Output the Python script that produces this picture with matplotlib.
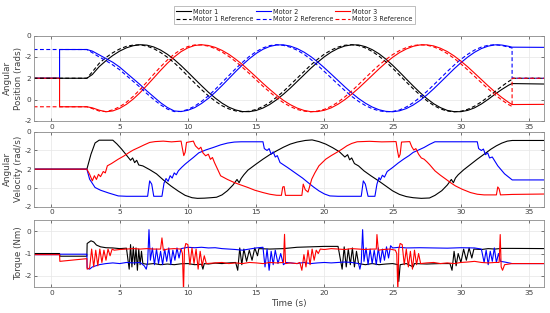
import numpy as np
import matplotlib.pyplot as plt

# ---- position data (rad) ----
t_move = np.concatenate([[2.6], np.arange(3.0, 33.51, 0.5), [33.75]])

m1_pos = [0.0, 0.35, 1.09, 1.65, 2.14, 2.55, 2.86, 3.06, 3.15, 3.11, 2.94, 2.65, 2.25, 1.76, 1.19, 0.57,
          -0.07, -0.70, -1.31, -1.86, -2.34, -2.72, -2.98, -3.13, -3.14, -3.03, -2.80, -2.46, -2.02, -1.50,
          -0.93, -0.31, 0.31, 0.93, 1.50, 2.02, 2.46, 2.80, 3.03, 3.14, 3.13, 2.97, 2.69, 2.30, 1.80, 1.22,
          0.59, -0.07, -0.72, -1.34, -1.90, -2.39, -2.76, -3.02, -3.14, -3.14, -3.02, -2.78, -2.42, -1.98,
          -1.50, -1.05, -0.65, -0.50]
m1_ref = [0.0, 0.60, 1.40, 1.95, 2.40, 2.75, 3.00, 3.12, 3.14, 3.02, 2.78, 2.42, 1.97, 1.45, 0.85, 0.20,
          -0.45, -1.07, -1.65, -2.15, -2.58, -2.88, -3.07, -3.15, -3.10, -2.93, -2.65, -2.27, -1.78, -1.24,
          -0.62, 0.0, 0.62, 1.24, 1.78, 2.27, 2.65, 2.93, 3.10, 3.15, 3.07, 2.85, 2.52, 2.08, 1.55, 0.95,
          0.30, -0.35, -0.98, -1.57, -2.10, -2.55, -2.88, -3.08, -3.15, -3.10, -2.92, -2.62, -2.22, -1.75,
          -1.25, -0.75, -0.30, -0.10]
m2_pos = [2.70, 2.55, 2.20, 1.85, 1.50, 1.05, 0.50, -0.05, -0.60, -1.20, -1.75, -2.30, -2.75, -3.07, -3.13,
          -3.01, -2.76, -2.37, -1.89, -1.32, -0.69, -0.03, 0.63, 1.26, 1.83, 2.33, 2.72, 2.99, 3.13, 3.14,
          3.02, 2.79, 2.46, 2.04, 1.54, 0.98, 0.39, -0.21, -0.81, -1.38, -1.90, -2.34, -2.70, -2.96, -3.11,
          -3.15, -3.06, -2.85, -2.52, -2.09, -1.58, -1.00, -0.38, 0.25, 0.88, 1.46, 1.99, 2.44, 2.79, 3.02,
          3.14, 3.12, 3.00, 2.92]
m2_ref = [2.70, 2.40, 2.00, 1.65, 1.25, 0.80, 0.25, -0.30, -0.85, -1.45, -2.00, -2.50, -2.90, -3.13, -3.12,
          -2.93, -2.62, -2.18, -1.65, -1.05, -0.40, 0.25, 0.90, 1.50, 2.05, 2.50, 2.85, 3.07, 3.15, 3.09,
          2.92, 2.64, 2.26, 1.78, 1.22, 0.63, 0.03, -0.57, -1.16, -1.70, -2.17, -2.56, -2.86, -3.06, -3.15,
          -3.12, -2.98, -2.70, -2.30, -1.80, -1.25, -0.63, 0.0, 0.63, 1.23, 1.78, 2.25, 2.65, 2.93, 3.10,
          3.15, 3.08, 2.92, 2.85]
m3_pos = [-2.68, -2.78, -3.00, -3.15, -3.07, -2.83, -2.45, -1.95, -1.35, -0.67, 0.03, 0.74, 1.41, 2.00,
          2.50, 2.86, 3.08, 3.15, 3.08, 2.90, 2.62, 2.25, 1.79, 1.28, 0.71, 0.12, -0.48, -1.05, -1.59, -2.08,
          -2.48, -2.80, -3.02, -3.14, -3.13, -3.01, -2.78, -2.44, -2.01, -1.50, -0.94, -0.34, 0.27, 0.88,
          1.45, 1.97, 2.41, 2.75, 3.00, 3.13, 3.14, 3.04, 2.82, 2.51, 2.10, 1.61, 1.07, 0.48, -0.12, -0.72,
          -1.29, -1.81, -2.27, -2.47]
m3_ref = [-2.68, -2.85, -3.08, -3.13, -2.97, -2.68, -2.25, -1.70, -1.05, -0.35, 0.38, 1.08, 1.72, 2.27,
          2.70, 2.98, 3.13, 3.13, 3.02, 2.79, 2.47, 2.05, 1.57, 1.02, 0.45, -0.15, -0.75, -1.30, -1.84, -2.30,
          -2.66, -2.93, -3.09, -3.15, -3.08, -2.92, -2.63, -2.25, -1.75, -1.20, -0.60, 0.03, 0.65, 1.23,
          1.75, 2.22, 2.60, 2.88, 3.07, 3.15, 3.11, 2.95, 2.68, 2.32, 1.87, 1.35, 0.78, 0.18, -0.42, -1.00,
          -1.55, -2.05, -2.48, -2.65]
hold_start = [0.0, 2.70, -2.68]   # value held before motion
hold_end = [-0.55, 2.90, -2.45]   # value held after motion

# ---- velocity data (rad/s) ----
v1_t = [-1.3, 2.6, 2.9, 3.2, 3.5, 4.5, 4.8, 5.15, 5.5, 5.8, 5.95, 6.1, 6.25, 6.4, 6.7, 7.2, 7.7, 8.2, 8.76,
        9.3, 9.8, 10.3, 10.7, 11.2, 11.7, 12.1, 12.5, 12.9, 13.3, 13.6, 13.75, 13.9, 14.1, 14.4, 15.0, 15.5,
        16.0, 16.5, 17.0, 17.5, 18.0, 18.6, 19.1, 19.6, 20.1, 20.6, 21.1, 21.5, 21.7, 21.85, 22.0, 22.2, 22.5,
        22.9, 23.4, 23.97, 24.5, 25.0, 25.5, 26.0, 26.5, 27.1, 27.7, 28.1, 28.6, 29.0, 29.3, 29.45, 29.6,
        29.8, 30.2, 30.7, 31.2, 31.7, 32.2, 32.6, 33.0, 33.4, 33.76, 36.5]
v1 = [0, 0, 1.6, 2.8, 3.1, 3.1, 2.7, 2.14, 1.5, 0.95, 1.2, 0.7, 0.95, 0.45, 0.35, -0.05, -0.5, -1.15, -1.8,
      -2.35, -2.8, -3.05, -3.12, -3.1, -3.05, -3.0, -2.75, -2.3, -1.7, -1.1, -1.45, -1.0, -0.6, -0.1, 0.55, 1.07,
      1.55, 1.96, 2.35, 2.68, 2.9, 3.07, 3.13, 2.95, 2.68, 2.3, 1.86, 1.3, 1.55, 1.0, 1.2, 0.6, 0.35,
      -0.18, -0.7, -1.25, -1.8, -2.32, -2.7, -2.93, -3.05, -3.12, -3.08, -2.8, -2.3, -1.7, -1.1, -1.45, -0.95,
      -0.6, -0.07, 0.5, 1.07, 1.6, 2.14, 2.5, 2.79, 3.0, 3.07, 3.07]
v2_t = [-1.3, 2.6, 2.8, 3.2, 3.6, 4.2, 4.9, 5.5, 7.05, 7.2, 7.35, 7.5, 8.1, 8.25, 8.4, 8.55, 8.7, 8.85, 9.0,
        9.15, 9.3, 9.55, 9.8, 10.1, 10.4, 10.8, 11.3, 11.86, 12.4, 12.9, 13.4, 13.9, 15.5, 15.6, 15.8, 15.95,
        16.1, 16.25, 16.4, 16.55, 16.75, 17.3, 18.0, 18.4, 18.8, 19.2, 19.6, 20.0, 20.4, 21.0, 22.7, 22.85,
        23.0, 23.2, 23.7, 23.85, 24.0, 24.1, 24.25, 24.4, 24.6, 25.0, 25.4, 25.8, 26.2, 26.5, 26.9, 27.3,
        27.7, 28.1, 31.2, 31.3, 31.5, 31.65, 31.8, 31.96, 32.1, 32.3, 32.7, 33.2, 33.76, 36.5]
v2 = [0, 0, -1.07, -1.96, -2.25, -2.55, -2.86, -2.9, -2.9, -1.25, -1.6, -2.9, -2.9, -1.5, -1.0, -1.3, -0.7,
      -0.95, -0.4, -0.6, -0.18, 0.2, 0.54, 0.9, 1.25, 1.75, 2.05, 2.32, 2.6, 2.79, 2.9, 2.93, 2.93, 2.2, 2.0,
      2.2, 1.6, 1.85, 1.3, 1.45, 0.71, 0.18, -0.54, -0.95, -1.43, -1.9, -2.32, -2.65, -2.86, -2.9, -2.9,
      -1.25, -1.6, -2.9, -2.9, -1.6, -0.9, -1.15, -0.65, -0.85, -0.25, 0.18, 0.65, 1.07, 1.45, 1.79, 2.05,
      2.32, 2.65, 2.93, 2.93, 2.2, 2.0, 2.15, 1.55, 1.75, 1.2, 1.3, 0.36, -0.5, -1.15, -1.15]
v3_t = [-1.3, 2.6, 2.8, 3.0, 3.15, 3.3, 3.45, 3.6, 3.8, 3.95, 4.1, 4.4, 4.9, 5.3, 5.7, 6.0, 6.4, 6.8, 7.2,
        7.6, 8.2, 8.8, 9.5, 9.6, 9.7, 9.8, 9.9, 10.4, 10.55, 10.8, 10.95, 11.1, 11.3, 11.5, 11.65, 11.8,
        11.95, 12.4, 12.9, 13.4, 13.9, 14.4, 14.9, 15.5, 16.0, 16.5, 16.85, 16.95, 17.05, 17.15, 18.35,
        18.45, 18.6, 18.8, 18.95, 19.07, 19.3, 19.6, 20.1, 20.5, 20.9, 21.3, 21.65, 22.0, 22.4, 23.3, 24.2,
        25.25, 25.35, 25.45, 25.55, 25.65, 26.25, 26.4, 26.55, 26.7, 26.9, 27.1, 27.3, 27.5, 27.7, 28.1,
        28.5, 28.9, 29.25, 29.6, 30.1, 30.7, 31.2, 31.7, 32.6, 32.7, 32.8, 32.9, 33.76, 36.5]
v3 = [0, 0, -0.54, -1.25, -0.7, -1.1, -0.55, -0.8, -0.25, -0.4, 0.36, 0.6, 1.07, 1.4, 1.79, 2.05, 2.32,
      2.6, 2.86, 2.95, 3.0, 2.92, 3.0, 2.2, 1.45, 1.8, 2.86, 3.0, 2.5, 2.14, 2.35, 1.75, 1.43, 1.6, 1.05,
      1.25, 0.7, -0.71, -1.1, -1.43, -1.7, -1.96, -2.25, -2.5, -2.68, -2.79, -2.8, -1.9, -1.86, -2.8, -2.8,
      -1.6, -2.2, -2.45, -1.7, -1.07, -0.4, 0.36, 1.07, 1.45, 1.79, 2.15, 2.5, 2.75, 2.93, 2.98, 2.92,
      2.95, 2.0, 1.25, 1.6, 2.9, 2.95, 2.4, 2.05, 2.2, 1.6, 1.2, 1.07, 0.8, 0.5, -0.18,
      -0.65, -1.07, -1.45, -1.79, -2.15, -2.5, -2.68, -2.75, -2.75, -1.9, -2.1, -2.75, -2.7, -2.65]

# ---- torque data (Nm) ----
q1_t = [-1.3, 0.6, 0.62, 2.6, 2.62, 2.9, 3.1, 3.3, 3.6, 4.0, 4.5, 5.0, 5.5,
        5.7, 5.8, 5.9, 6.0, 6.1, 6.2, 6.3, 6.4, 6.5, 6.6, 6.7,
        7.0, 7.5, 8.0, 8.5, 9.0, 9.5, 10.0, 10.5, 11.0, 11.1, 11.2, 11.5, 12.0, 12.5, 13.0, 13.5,
        13.65, 13.8, 13.95, 14.1, 14.3, 14.5, 14.7, 14.9, 15.1, 15.2,
        16.0, 17.0, 18.0, 19.0, 20.0, 21.0,
        21.3, 21.45, 21.6, 21.75, 21.9, 22.05, 22.2, 22.35, 22.5,
        23.0, 23.5, 24.0, 24.5, 25.0, 25.4, 25.45, 25.55, 26.0, 26.5, 26.6, 27.5, 28.5, 29.2,
        29.35, 29.5, 29.65, 29.8, 30.0, 30.2, 30.4, 30.6, 30.8, 30.95,
        31.5, 32.0, 32.5, 33.0, 33.75, 36.5]
q1 = [-1.0, -1.0, -1.12, -1.12, -0.55, -0.43, -0.48, -0.62, -0.7, -0.74, -0.75, -0.78, -0.76,
      -1.7, -0.6, -1.6, -0.7, -1.5, -0.75, -1.75, -0.8, -1.5, -0.9, -1.45,
      -1.48, -1.45, -1.5, -1.47, -1.5, -1.46, -1.45, -1.5, -1.48, -1.7, -1.45, -1.47, -1.43, -1.45, -1.42, -1.4,
      -1.75, -0.75, -1.5, -0.8, -1.35, -0.85, -1.3, -0.75, -1.1, -0.78,
      -0.8, -0.78, -0.72, -0.7, -0.68, -0.68,
      -1.7, -0.7, -1.6, -0.8, -1.5, -0.75, -1.6, -0.9, -1.45,
      -1.5, -1.45, -1.5, -1.47, -1.45, -1.5, -2.25, -1.5, -1.45, -1.6, -1.45, -1.47, -1.45, -1.45,
      -1.75, -0.9, -1.55, -1.0, -1.4, -0.8, -1.3, -0.75, -1.2, -0.8,
      -0.82, -0.78, -0.8, -0.77, -0.77, -0.78]
q2_t = [-1.3, 0.6, 0.62, 2.6, 2.62, 2.8, 3.0, 3.5, 4.0, 4.5, 5.0, 5.5, 6.0, 6.5, 6.8, 6.95, 7.05, 7.15, 7.25,
        7.4, 7.55, 7.7, 7.85, 8.0, 8.15, 8.3, 8.45, 8.6, 8.75, 8.9, 9.05, 9.2, 9.35, 9.5,
        10.0, 10.5, 11.0, 11.5, 12.0, 12.5, 13.0, 13.5, 14.0, 14.5, 15.0, 15.5,
        15.65, 15.8, 15.95, 16.1, 16.25, 16.4, 16.6, 16.8, 17.0, 17.2,
        18.0, 18.5, 19.0, 19.5, 20.0, 20.5, 21.0, 21.5, 22.0, 22.5, 22.6, 22.7, 22.8, 22.9,
        23.05, 23.2, 23.35, 23.5, 23.65, 23.8, 23.95, 24.1, 24.25, 24.4, 24.55, 24.7, 24.85, 25.0,
        25.5, 26.0, 27.0, 28.0, 29.0, 30.0, 31.0, 31.5,
        31.7, 31.85, 32.0, 32.15, 32.3, 32.45, 32.6, 32.75, 32.9, 33.2, 33.75, 36.5]
q2 = [-1.05, -1.05, -1.03, -1.03, -1.65, -1.7, -1.6, -1.5, -1.45, -1.42, -1.45, -1.4, -1.42, -1.4, -1.55,
      -1.7, -1.4, 0.07, -1.3,
      -0.75, -1.5, -0.8, -1.45, -0.9, -1.5, -0.8, -1.35, -0.75, -1.5, -0.85, -1.3, -0.75, -1.2, -0.78,
      -0.72, -0.74, -0.72, -0.75, -0.74, -0.78, -0.8, -0.82, -0.85, -0.8, -0.75, -0.72,
      -1.6, -0.8, -1.75, -0.9, -1.5, -0.85, -1.45, -1.0, -1.5, -1.4,
      -1.45, -1.4, -1.45, -1.42, -1.4, -1.42, -1.4, -1.38, -1.4, -1.45, -1.7, -1.4, 0.07, -1.35,
      -0.75, -1.5, -0.8, -1.45, -0.85, -1.5, -0.75, -1.4, -0.8, -1.3, -0.7, -1.2, -0.65, -0.75,
      -0.72, -0.75, -0.74, -0.75, -0.76, -0.74, -0.75, -0.8,
      -1.4, -0.85, -1.5, -0.9, -1.35, -0.75, -1.4, -1.0, -1.35, -1.38, -1.45, -1.45]
q3_t = [-1.3, 0.6, 0.62, 2.6, 2.62, 2.8,
        2.95, 3.1, 3.25, 3.4, 3.55, 3.7, 3.85, 4.0, 4.15, 4.3, 4.45, 4.6,
        5.0, 5.5, 6.0, 6.5, 7.0, 7.5, 8.0, 8.1, 8.2, 8.5, 9.0, 9.5, 9.6, 9.68, 9.75,
        9.85, 10.0, 10.15, 10.3, 10.45, 10.6, 10.75, 10.9, 11.05, 11.2, 11.35,
        12.0, 12.5, 13.0, 13.5, 14.0, 14.5, 15.0, 15.5, 16.0, 16.5, 17.0, 17.08, 17.15, 17.5, 18.0, 18.2,
        18.35, 18.5, 18.65, 18.8, 18.95, 19.1, 19.25, 19.4, 19.55, 19.7,
        20.0, 20.5, 21.0, 21.5, 22.0, 22.5, 23.0, 23.5, 23.8, 23.85, 23.95, 24.3, 24.8, 25.2, 25.3,
        25.38, 25.45,
        25.55, 25.7, 25.85, 26.0, 26.15, 26.3, 26.45, 26.6, 26.75, 26.9, 27.05,
        27.5, 28.0, 28.5, 29.0, 29.5, 30.0, 30.5, 31.0, 31.5, 32.0, 32.5, 32.8, 32.88, 32.95, 33.05,
        33.2, 33.75, 36.5]
q3 = [-1.05, -1.05, -1.35, -1.23, -1.7, -1.65,
      -0.8, -1.6, -0.85, -1.55, -0.8, -1.4, -0.85, -1.3, -0.8, -1.1, -0.8, -0.85,
      -0.82, -0.8, -0.78, -0.8, -0.78, -0.8, -0.8, -0.3, -0.85, -0.8, -0.78, -0.8, -1.0, -2.7, -0.8,
      -0.55, -0.6, -1.5, -0.75, -1.45, -0.8, -1.7, -0.9, -1.55, -1.1, -1.45,
      -1.42, -1.4, -1.45, -1.42, -1.45, -1.4, -1.42, -1.45, -1.4, -1.42, -1.4, -0.14, -1.45, -1.42, -1.45, -1.4,
      -1.75, -1.05, -1.6, -0.85, -1.5, -0.8, -1.3, -0.85, -1.0, -0.8,
      -0.82, -0.78, -0.8, -0.82, -0.78, -0.8, -0.82, -0.8, -0.8, -0.15, -0.85, -0.82, -0.8, -0.85, -1.0,
      -2.7, -0.8,
      -0.55, -0.6, -1.5, -0.8, -1.6, -0.9, -1.7, -0.85, -1.5, -1.0, -1.45,
      -1.42, -1.4, -1.45, -1.42, -1.45, -1.4, -1.38, -1.35, -1.4, -1.42, -1.4, -1.4, -0.15, -1.6, -1.75,
      -1.5, -1.45, -1.45]

colors = ['black', 'blue', 'red']
pos_list = [m1_pos, m2_pos, m3_pos]
ref_list = [m1_ref, m2_ref, m3_ref]
vel_list = [(v1_t, v1), (v2_t, v2), (v3_t, v3)]
tq_list = [(q1_t, q1), (q2_t, q2), (q3_t, q3)]

fig = plt.figure(figsize=(5.5, 3.13), dpi=100)
ax1 = fig.add_axes([0.0624, 0.614, 0.927, 0.272])
ax2 = fig.add_axes([0.0624, 0.340, 0.927, 0.239])
ax3 = fig.add_axes([0.0624, 0.083, 0.927, 0.214])

lw = 0.8
lines = []
for i in range(3):
    if i == 0:
        ts = np.concatenate([[-1.3], t_move, [36.5]])
        vs = np.concatenate([[hold_start[0]], pos_list[0], [hold_end[0]]])
    else:
        ts = np.concatenate([[-1.3, 0.6, 0.6], t_move, [36.5]])
        vs = np.concatenate([[0.0, 0.0, hold_start[i]], pos_list[i], [hold_end[i]]])
    l, = ax1.plot(ts, vs, color=colors[i], lw=lw, label='Motor %d' % (i + 1))
    lines.append(l)
refs = []
for i in range(3):
    ts = np.concatenate([[-1.3], t_move, [33.75, 36.5]])
    vs = np.concatenate([[hold_start[i]], ref_list[i], [0.0, 0.0]])
    l, = ax1.plot(ts, vs, color=colors[i], lw=lw, ls=(0, (3.5, 2.2)),
                  label='Motor %d Reference' % (i + 1))
    refs.append(l)

for i in range(3):
    ax2.plot(vel_list[i][0], vel_list[i][1], color=colors[i], lw=lw)
    ax3.plot(tq_list[i][0], tq_list[i][1], color=colors[i], lw=lw)

gray = '#404040'
for ax in (ax1, ax2, ax3):
    ax.set_xlim(-1.25, 36.1)
    ax.set_xticks([0, 5, 10, 15, 20, 25, 30, 35])
    ax.grid(True, color='#e6e6e6', lw=0.5)
    ax.set_axisbelow(True)
    ax.tick_params(direction='in', length=2.5, width=0.5, colors=gray, labelsize=5.3, pad=2,
                   top=True, right=True)
    for s in ax.spines.values():
        s.set_color('#8c8c8c')
        s.set_linewidth(0.6)

for ax in (ax1, ax2):
    ax.set_ylim(-4, 4)
    ax.set_yticks([-4, -2, 0, 2, 4])
    ax.set_yticklabels(['-2', '0', '2', '-2', '0'])
ax3.set_ylim(-2.5, 0.5)
ax3.set_yticks([-2, -1, 0])
ax3.set_yticklabels(['-2', '-1', '0'])

lab = dict(fontsize=6.3, color=gray, labelpad=1, linespacing=1.25)
ax1.set_ylabel('Angular\nPosition (rads)', **lab)
ax2.set_ylabel('Angular\nVelocity (rad/s)', **lab)
ax3.set_ylabel('Torque (Nm)', **lab)
ax3.set_xlabel('Time (s)', fontsize=6.3, color=gray, labelpad=2)

handles = [lines[0], refs[0], lines[1], refs[1], lines[2], refs[2]]
leg = fig.legend(handles=handles, loc='upper center', bbox_to_anchor=(0.535, 0.99), ncol=3,
                 fontsize=4.7, frameon=True, fancybox=False, edgecolor='#a0a0a0',
                 handlelength=2.3, handletextpad=0.3, columnspacing=0.3, borderpad=0.35,
                 labelspacing=0.2)
leg.get_frame().set_linewidth(0.6)
for txt in leg.get_texts():
    txt.set_color('#262626')

fig.savefig('out.png', dpi=100)
